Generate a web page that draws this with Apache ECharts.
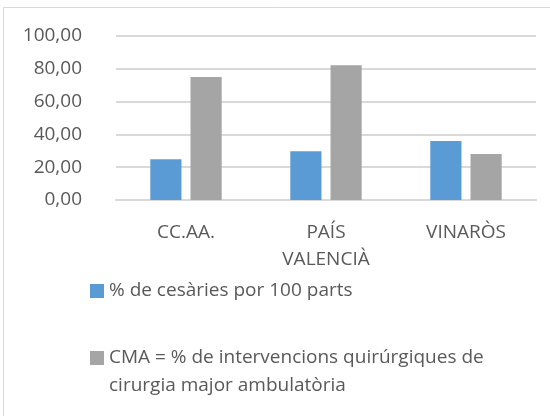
<!DOCTYPE html>
<html>
<head>
<meta charset="utf-8">
<script src="https://cdn.jsdelivr.net/npm/echarts@6/dist/echarts.min.js"></script>
<style>html,body{margin:0;padding:0;background:#fff}#c{width:550px;height:416px}</style>
</head>
<body>
<div id="c"></div>
<script>
var categories = ['CC.AA.', 'PAÍS\nVALENCIÀ', 'VINARÒS'];
var seriesNames = ['% de cesàries por 100 parts', 'CMA = % de intervencions quirúrgiques de\ncirurgia major ambulatòria'];
var cesaries = [24.9, 29.8, 35.9];
var cma = [75.0, 82.2, 28.0];
var yTicks = [0, 20, 40, 60, 80, 100];

var font = 'Open Sans';
var txt = '#595959';
var chart = echarts.init(document.getElementById('c'), null, {renderer: 'canvas'});
chart.setOption({
  animation: false,
  graphic: [{
    type: 'rect', z: -1,
    shape: {x: 3.5, y: 7.5, width: 600, height: 500},
    style: {fill: '#fff', stroke: '#d9d9d9', lineWidth: 1}
  }],
  grid: {left: 116, right: 14, top: 36, bottom: 216, containLabel: false},
  xAxis: {
    type: 'category', data: categories,
    axisLine: {lineStyle: {color: '#d9d9d9', width: 2}},
    axisTick: {show: false},
    axisLabel: {color: txt, fontFamily: font, fontSize: 19, lineHeight: 27, margin: 19, interval: 0}
  },
  yAxis: {
    type: 'value', min: yTicks[0], max: yTicks[yTicks.length - 1], interval: 20,
    axisLine: {show: false}, axisTick: {show: false},
    splitLine: {lineStyle: {color: '#d9d9d9', width: 2}},
    axisLabel: {color: txt, fontFamily: font, fontSize: 19, margin: 34,
      formatter: function (v) { return v.toFixed(2).replace('.', ','); }}
  },
  legend: [{
    data: [seriesNames[0]], orient: 'vertical', left: 85, top: 272,
    itemWidth: 14, itemHeight: 14, itemGap: 0, icon: 'rect',
    textStyle: {color: txt, fontFamily: font, fontSize: 19, lineHeight: 28}
  }, {
    data: [seriesNames[1]], orient: 'vertical', left: 85, top: 311,
    itemWidth: 14, itemHeight: 14, itemGap: 0, icon: 'rect',
    formatter: function (n) { return '\n' + n; },
    textStyle: {color: txt, fontFamily: font, fontSize: 19, lineHeight: 28}
  }],
  series: [{
    name: seriesNames[0], type: 'bar', data: cesaries,
    itemStyle: {color: '#5b9bd5'}, barGap: '29%', barCategoryGap: '49%'
  }, {
    name: seriesNames[1], type: 'bar', data: cma,
    itemStyle: {color: '#a5a5a5'}, barGap: '29%', barCategoryGap: '49%'
  }]
});
</script>
</body>
</html>
